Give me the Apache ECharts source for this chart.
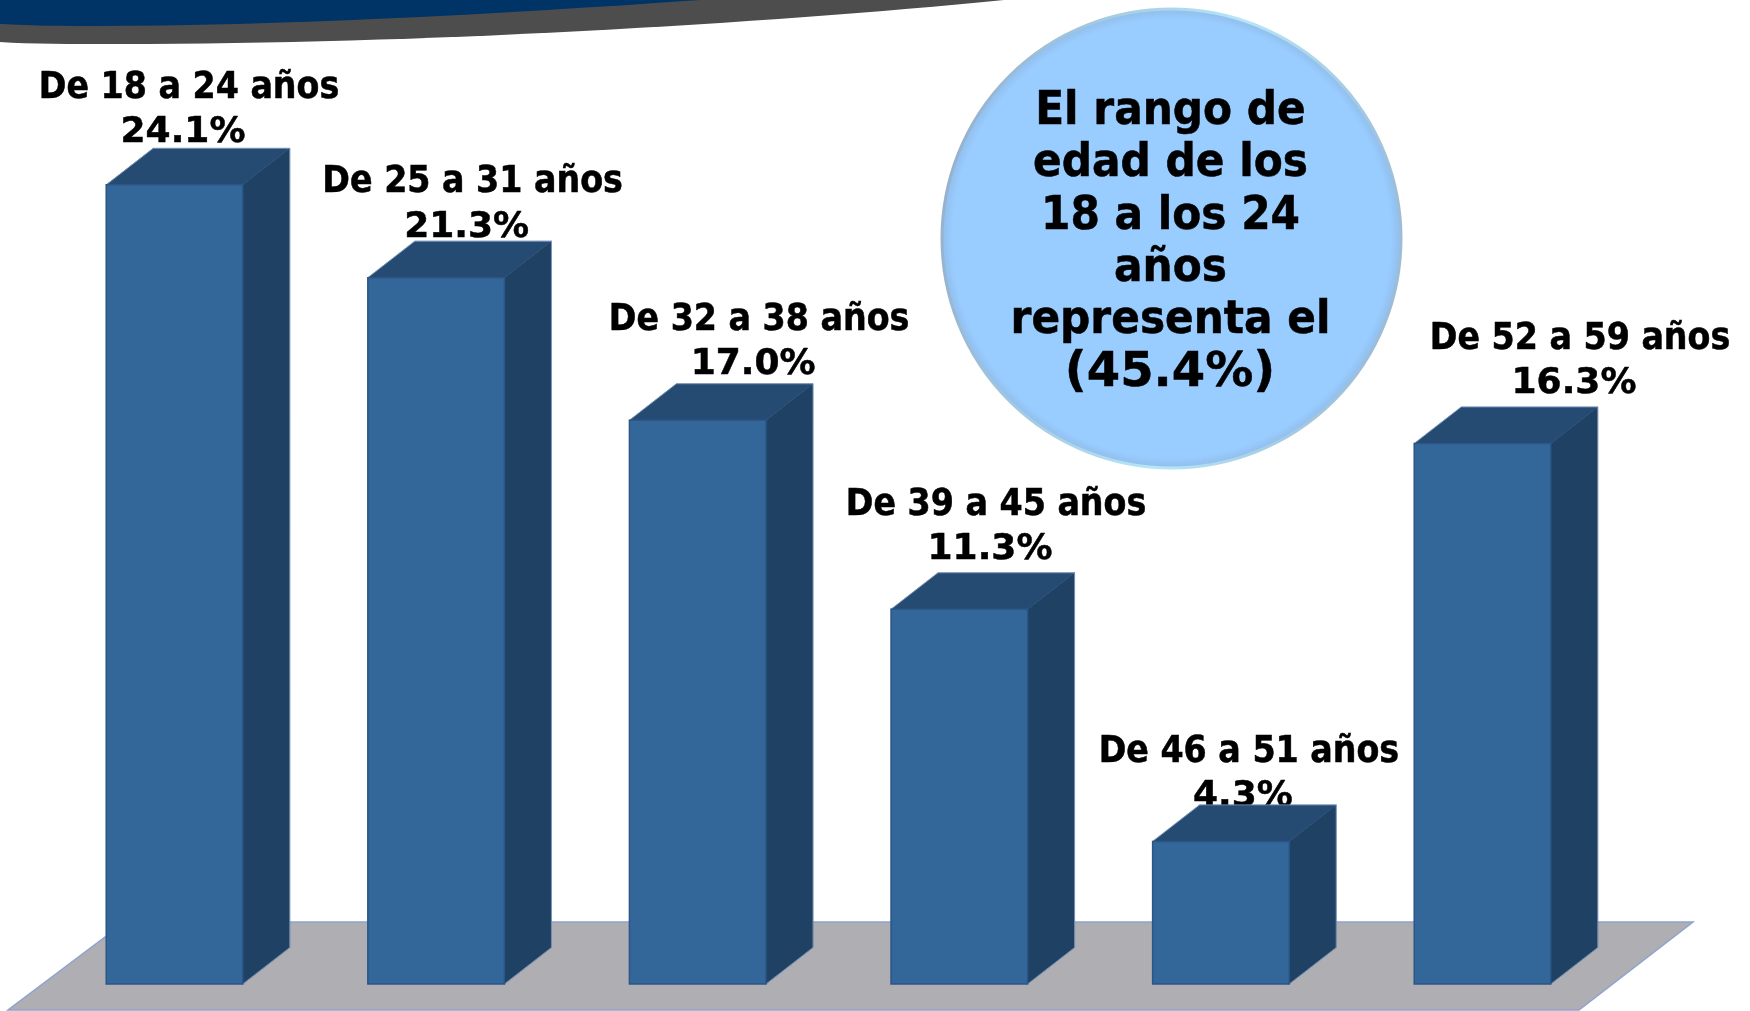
<!DOCTYPE html>
<html>
<head>
<meta charset="utf-8">
<style>html,body{margin:0;padding:0;background:#fff}#c{width:1750px;height:1011px}</style>
<script src="https://cdn.jsdelivr.net/npm/echarts@6/dist/echarts.min.js"></script>
</head>
<body>
<div id="c"></div>
<script>
var categories = ['De 18 a 24 años','De 25 a 31 años','De 32 a 38 años','De 39 a 45 años','De 46 a 51 años','De 52 a 59 años'];
var values = [24.1, 21.3, 17.0, 11.3, 4.3, 16.3];
var valueLabels = ['24.1%','21.3%','17.0%','11.3%','4.3%','16.3%'];
var calloutLines = ['El rango de','edad de los','18 a los 24','años','representa el'];
var calloutValue = '(45.4%)';

// layout only: hand placement of each label relative to its bar
var labelDx = [8.5, 30.5, 55.4, 30.7, 22, 91.5];
var labelDy = [-52, -50.5, -55.5, -59.5, -45, -60];

var FONT = '"DejaVu Sans Condensed","DejaVu Sans",sans-serif';
var FONT_WIDE = '"DejaVu Sans",sans-serif';
var chart = echarts.init(document.getElementById('c'), null, {renderer:'canvas'});

function renderBar(params, api) {
  var i = api.value(0);
  var base = api.coord([i, 0]);
  var top = api.coord([i, api.value(1)]);
  var w = api.size([1, 0])[0] * 0.522;
  var dx = 47, dy = 36.5;
  var l = base[0] - w / 2, r = base[0] + w / 2, t = top[1], b = base[1];
  var cx = base[0] + labelDx[i], cy = t + labelDy[i];
  var txt = function (s, x, y, family, size) {
    return {type:'text', style:{text:s, x:x, y:y, align:'center', verticalAlign:'middle',
      fontFamily:family, fontWeight:'bold', fontSize:size, fill:'#000', stroke:'#000', lineWidth:0.5}};
  };
  return {type:'group', children:[
    txt(categories[i], cx + 6, cy - 44.5, FONT, 37),
    txt(valueLabels[i], cx, cy, FONT_WIDE, 36),
    {type:'polygon', shape:{points:[[r,t],[r+dx,t-dy],[r+dx,b-dy],[r,b]]},
      style:{fill:'#1f4164', stroke:'#1f4164', lineWidth:0.6}},
    {type:'polygon', shape:{points:[[l,t],[l+dx,t-dy],[r+dx,t-dy],[r,t]]},
      style:{fill:'#254b73', stroke:'#254b73', lineWidth:0.6}},
    {type:'polyline', shape:{points:[[l,t],[l+dx,t-dy],[r+dx,t-dy],[r+dx,b-dy],[r,b]]},
      style:{fill:null, stroke:'#8ea6cc', lineWidth:0.7}},
    {type:'rect', shape:{x:l, y:t, width:w, height:b-t},
      style:{fill:'#336699', stroke:'#2b5686', lineWidth:1.5}}
  ]};
}

function renderBanner() {
  return {type:'group', children:[
    {type:'path', shape:{pathData:'M0 0 L1004 0 C760 24 420 44 120 44 C70 44 30 44 0 42 Z', x:0, y:0, width:1004, height:44, layout:'cover'},
      style:{fill:'#4d4d4d'}},
    {type:'path', shape:{pathData:'M0 0 L700 0 C500 14 280 26 90 26 C50 26 20 25 0 24 Z', x:0, y:0, width:700, height:26, layout:'cover'},
      style:{fill:'#003366'}}
  ]};
}

chart.setOption({
  animation:false,
  backgroundColor:'#ffffff',
  grid:{left:43.7, width:1569.6, top:155, height:829},
  xAxis:{type:'category', data:categories, show:false},
  yAxis:{type:'value', min:0, max:25, show:false},
  graphic:[
    {type:'polygon', z:0, shape:{points:[[125,922],[1693,922],[1579,1010],[8,1010]]},
      style:{fill:'#afaeb2', stroke:'#8ea3cf', lineWidth:1.5}},
    {type:'circle', z:1, shape:{cx:1171.5, cy:238.5, r:229.5},
      style:{
        fill:{type:'radial', x:0.5, y:0.5, r:0.5, colorStops:[
          {offset:0, color:'#99ccff'},{offset:0.95, color:'#99ccff'},{offset:1, color:'#90bce8'}]},
        stroke:{type:'linear', x:0, y:0.2, x2:1, y2:0.4, colorStops:[
          {offset:0, color:'#93adc9'},{offset:0.6, color:'#b6e6f8'},{offset:1, color:'#9dbdd6'}]},
        lineWidth:3}},
    {type:'text', z:2, x:1170.5, y:216.5, style:{text:calloutLines.join('\n'), align:'center', verticalAlign:'middle',
      fontFamily:FONT, fontWeight:'bold', fontSize:47, lineHeight:52.3, fill:'#000', stroke:'#000', lineWidth:0.5}},
    {type:'text', z:2, x:1170, y:374, style:{text:calloutValue, align:'center', verticalAlign:'middle',
      fontFamily:FONT_WIDE, fontWeight:'bold', fontSize:48, fill:'#000', stroke:'#000', lineWidth:0.5}}
  ],
  series:[
    {type:'custom', clip:false, z:1, renderItem:renderBanner, silent:true, data:[[0,0]], encode:{x:0,y:1}},
    {type:'custom', clip:false, z:3, renderItem:renderBar, encode:{x:0, y:1},
      data:values.map(function(v,i){return [i,v];})}
  ]
});
</script>
</body>
</html>
